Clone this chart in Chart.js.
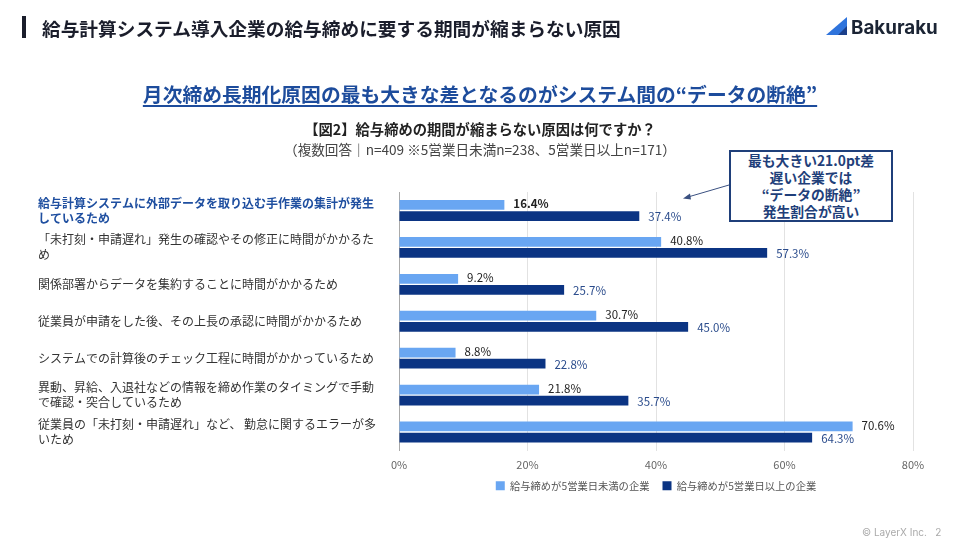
<!DOCTYPE html>
<html>
<head>
<meta charset="utf-8">
<script src="https://cdn.jsdelivr.net/npm/chart.js@4.4.1/dist/chart.umd.min.js"></script>
<style>
  html, body { margin: 0; padding: 0; background: #fff; }
  body { width: 960px; height: 540px; position: relative; overflow: hidden;
         font-family: "Noto Sans CJK JP", "Noto Sans", sans-serif; }
  #wrap { position: absolute; left: 0; top: 0; width: 960px; height: 540px; }
  .abs { position: absolute; white-space: nowrap; }
  #accent { left: 22px; top: 16px; width: 4px; height: 22px; background: #1a1d2b; }
  #title { left: 42px; top: 14px; font-size: 18.7px; font-weight: 700; color: #1a1d2b; line-height: 28px; }
  #logo { left: 851px; top: 14px; font-size: 18.8px; font-weight: 700; color: #1b2434; line-height: 28px; font-family: "Inter", "Noto Sans", sans-serif; }
  #headline { left: 0; width: 960px; top: 80px; text-align: center; font-size: 19.8px; font-weight: 700;
              color: #1d4c9c; line-height: 28px; }
  #headline span { text-decoration: underline; text-underline-offset: 3px; text-decoration-thickness: 1.5px; }
  #q { left: 0; width: 960px; top: 119px; text-align: center; font-size: 14.3px; font-weight: 700; color: #222; line-height: 20px; }
  #n { left: 0; width: 960px; top: 140px; text-align: center; font-size: 13.6px; color: #444; line-height: 19px; }
  #note { left: 729px; top: 150px; width: 160px; height: 68px; border: 2px solid #1f3f7a; background: #fff;
          text-align: center; font-size: 13.8px; font-weight: 700; color: #1f3f7a; line-height: 17px; }
  #copy { left: 862px; top: 526px; font-size: 10px; color: #aaa; font-family: "Inter", "Noto Sans", sans-serif; }
  svg { position: absolute; left: 0; top: 0; }
</style>
</head>
<body>
<div id="wrap"><canvas id="c" width="960" height="540"></canvas></div>
<div class="abs" id="accent"></div>
<div class="abs" id="title">給与計算システム導入企業の給与締めに要する期間が縮まらない原因</div>
<svg width="960" height="540">
  <polygon points="826,35 847,17 847,35" fill="#2f74dc"/>
  <polygon points="838,35 847,26 847,35" fill="#1b3f8a"/>
  <line x1="729" y1="185" x2="688" y2="197" stroke="#3a5080" stroke-width="1"/>
  <polygon points="683,198.5 690,193.5 691,199.5" fill="#3a5080"/>
</svg>
<div class="abs" id="logo">Bakuraku</div>
<div class="abs" id="headline"><span>月次締め長期化原因の最も大きな差となるのがシステム間の“データの断絶”</span></div>
<div class="abs" id="q">【図2】給与締めの期間が縮まらない原因は何ですか？</div>
<div class="abs" id="n">（複数回答｜n=409 ※5営業日未満n=238、5営業日以上n=171）</div>
<div class="abs" id="note">最も大きい21.0pt差<br>遅い企業では<br>“データの断絶”<br>発生割合が高い</div>
<div class="abs" id="copy">© LayerX Inc.&nbsp;&nbsp;&nbsp;2</div>
<script>
const categories = [
  ["給与計算システムに外部データを取り込む手作業の集計が発生", "しているため"],
  ["「未打刻・申請遅れ」発生の確認やその修正に時間がかかるた", "め"],
  "関係部署からデータを集約することに時間がかかるため",
  "従業員が申請をした後、その上長の承認に時間がかかるため",
  "システムでの計算後のチェック工程に時間がかかっているため",
  ["異動、昇給、入退社などの情報を締め作業のタイミングで手動", "で確認・突合しているため"],
  ["従業員の「未打刻・申請遅れ」など、 勤怠に関するエラーが多", "いため"]
];
const under5 = [16.4, 40.8, 9.2, 30.7, 8.8, 21.8, 70.6];
const over5 = [37.4, 57.3, 25.7, 45.0, 22.8, 35.7, 64.3];
const seriesNames = ["給与締めが5営業日未満の企業", "給与締めが5営業日以上の企業"];
const xTicks = [0, 20, 40, 60, 80];

const FONT = '"Noto Sans CJK JP", "Noto Sans", sans-serif';

// value text at the end of each bar
const valueLabels = {
  id: "valueLabels",
  afterDatasetsDraw(chart) {
    const ctx = chart.ctx;
    ctx.save();
    ctx.textBaseline = "middle";
    ctx.textAlign = "left";
    chart.data.datasets.forEach((ds, di) => {
      const meta = chart.getDatasetMeta(di);
      meta.data.forEach((bar, i) => {
        const bold = di === 0 && i === 0;
        ctx.font = (bold ? "700 " : "400 ") + "11.5px " + FONT;
        ctx.fillStyle = di === 0 ? "#222" : "#2b4c8c";
        ctx.fillText(ds.data[i].toFixed(1) + "%", bar.x + 9, bar.y + (di === 0 ? -1 : 1));
      });
    });
    ctx.restore();
  }
};

// legend sits under the plot area (not the whole canvas), a bit closer to the axis
const legendUnderPlot = {
  id: "legendUnderPlot",
  afterLayout(chart) {
    const lg = chart.legend;
    if (!lg) return;
    lg.left = chart.chartArea.left;
    lg.right = chart.chartArea.right;
    lg.top -= 12;
    lg.bottom -= 12;
  }
};

new Chart(document.getElementById("c"), {
  type: "bar",
  data: {
    labels: categories,
    datasets: [
      { label: seriesNames[0], data: under5, backgroundColor: "#69a6f2" },
      { label: seriesNames[1], data: over5, backgroundColor: "#0b3483" }
    ]
  },
  options: {
    indexAxis: "y",
    responsive: false,
    animation: false,
    events: [],
    categoryPercentage: 0.6,
    barPercentage: 0.88,
    layout: { padding: { left: 38, top: 192, right: 47, bottom: 27 } },
    scales: {
      x: {
        min: 0, max: 80,
        afterBuildTicks: s => { s.ticks = xTicks.map(v => ({ value: v })); },
        ticks: { callback: v => v + "%", color: "#666", font: { family: FONT, size: 11 }, padding: 8 },
        grid: { color: "#e2e2e2", drawTicks: false },
        border: { display: false }
      },
      y: {
        afterFit: s => { s.width = 361; },
        ticks: {
          crossAlign: "far",
          color: c => c.index === 0 ? "#1f4fa0" : "#333",
          font: c => ({ family: FONT, size: 12, weight: c.index === 0 ? "700" : "400", lineHeight: 1.25 })
        },
        grid: { display: false },
        border: { display: true, color: "#aaa" }
      }
    },
    plugins: {
      legend: {
        position: "bottom",
        labels: { boxWidth: 9, boxHeight: 9, color: "#555", font: { family: FONT, size: 10.3 }, padding: 13 }
      },
      tooltip: { enabled: false }
    }
  },
  plugins: [valueLabels, legendUnderPlot]
});
</script>
</body>
</html>
